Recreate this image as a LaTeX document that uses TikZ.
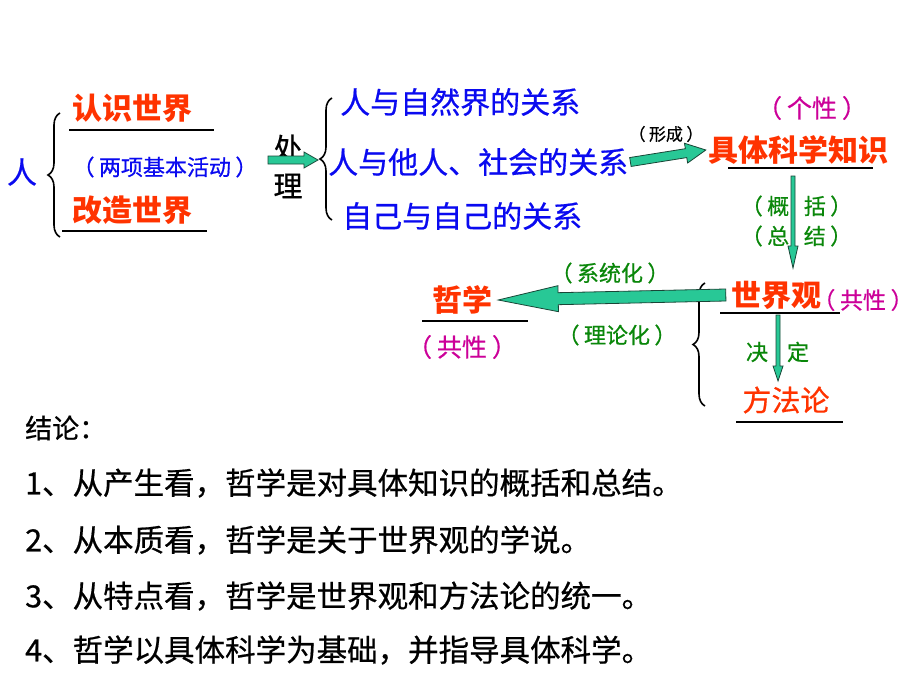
\documentclass[tikz,border=0pt]{standalone}
\usepackage{fontspec}
\setmainfont{Noto Sans CJK SC}[UprightFeatures={FakeBold=0.6}]
\usetikzlibrary{calc,decorations.pathreplacing}
\definecolor{zred}{RGB}{255,51,0}
\definecolor{zblue}{RGB}{10,10,240}
\definecolor{zmag}{RGB}{204,0,153}
\definecolor{zgreen}{RGB}{10,135,10}
\definecolor{zteal}{RGB}{40,200,150}
\definecolor{zedge}{RGB}{25,70,55}
\tikzset{
  every node/.style={inner sep=0pt},
  redtxt/.style={text=zred,font=\bfseries\fontsize{30}{30}\selectfont},
  redplain/.style={text=zred,font=\fontsize{29}{29}\selectfont},
  bluetxt/.style={text=zblue,font=\fontsize{30}{30}\selectfont},
  bluesm/.style={text=zblue,font=\fontsize{22}{22}\selectfont},
  blktxt/.style={text=black,font=\fontsize{29}{29}\selectfont},
  smalltxt/.style={text=black,font=\fontsize{17}{17}\selectfont},
  magtxt/.style={text=zmag,font=\fontsize{25}{25}\selectfont},
  greentxt/.style={text=zgreen,font=\fontsize{22}{22}\selectfont},
  concl/.style={anchor=west,text=black,font=\fontsize{30.5}{30.5}\selectfont},
  uline/.style={line width=1.3pt},
  bracebar/.style={line width=1.6pt,decorate,decoration={brace,amplitude=12pt}},
  arrowbody/.style={fill=zteal,draw=zedge,line width=0.8pt},
}
% wide full-width brackets
\newcommand\pa[1]{（\hspace{.2em}#1\hspace{.2em}）}
% block arrow: start, target, half shaft, half head, head length
\newcommand\blockarrow[5]{%
  \path (#1) coordinate (ba-s) (#2) coordinate (ba-t);
  \path ($(ba-t)!#5!(ba-s)$) coordinate (ba-b);
  \filldraw[arrowbody] ($(ba-s)!#3!90:(ba-t)$) -- ($(ba-b)!#3!-90:(ba-s)$)
    -- ($(ba-b)!#4!-90:(ba-s)$) -- (ba-t) -- ($(ba-b)!#4!90:(ba-s)$)
    -- ($(ba-b)!#3!90:(ba-s)$) -- ($(ba-s)!#3!-90:(ba-t)$) -- cycle;
}
\begin{document}
\begin{tikzpicture}[x=1pt,y=-1pt]
  \fill[white] (0,0) rectangle (920,690);
  \useasboundingbox (0,0) rectangle (920,690);

  % left part
  \node[bluetxt] (ren) at (22,172) {人};
  \draw[bracebar] (60,237) -- (60,113);
  \node[redtxt] (rssj) at (132,108) {认识世界};
  \draw[uline] (69,130) -- (214,130);
  \node[bluesm] (hdong) at (165,167) {\pa{两项基本活动}};
  \node[redtxt] (gzsj) at (132,210) {改造世界};
  \draw[uline] (62,231) -- (207,231);
  \node[blktxt] (chu) at (288,148) {处};
  \node[blktxt] (li) at (288,186) {理};

  % three relations
  \draw[bracebar] (332,220) -- (332,98);
  \coordinate (tipA) at (318,160);
  \coordinate (startA) at (268,160);
  \node[bluetxt,anchor=west] (rel1) at (340,102) {人与自然界的关系};
  \node[bluetxt,anchor=west] (rel2) at (328,162) {人与他人、社会的关系};
  \node[bluetxt,anchor=west] (rel3) at (342,216) {自己与自己的关系};

  % concrete science
  \node[smalltxt] (xcheng) at (666,134) {\pa{形成}};
  \node[magtxt] (gexing) at (812,108) {\pa{个性}};
  \node[redtxt] (kxzs) at (798,150) {具体科学知识};
  \draw[uline] (728,168) -- (873,168);
  \coordinate (downS) at (793,176);
  \coordinate (downT) at (793,268);
  \node[greentxt] (gai) at (765,206) {（\hspace{.2em}概};
  \node[greentxt] (kuo) at (828,206) {括\hspace{.2em}）};
  \node[greentxt] (zong) at (765,236) {（\hspace{.2em}总};
  \node[greentxt] (jie) at (828,236) {结\hspace{.2em}）};

  % world view
  \node[redtxt] (sjg) at (776,295) {世界观};
  \draw[uline] (720,313) -- (840,313);
  \node[magtxt,font=\fontsize{23}{23}\selectfont] (gong1) at (863,300) {\pa{共性}};
  \node[redtxt] (zx) at (462,300) {哲学};
  \draw[uline] (422,321) -- (528,321);
  \node[magtxt] (gong2) at (462,347) {\pa{共性}};
  \node[greentxt] (xtong) at (610,273) {\pa{系统化}};
  \node[greentxt] (llun) at (617,335) {\pa{理论化}};
  \draw[bracebar] (705,406) -- (705,283);
  \node[greentxt] (jue) at (757,352) {决};
  \node[greentxt] (ding) at (798,352) {定};
  \node[redplain] (ffl) at (786,400) {方法论};
  \draw[uline] (736,422) -- (843,422);
  \coordinate (sjgS) at (778,315);
  \coordinate (fflT) at (778,381);

  % arrows
  \blockarrow{startA}{tipA}{4pt}{8pt}{14pt}
  \blockarrow{[xshift=2pt]rel2.east}{[xshift=-2pt]kxzs.west}{4.5pt}{10pt}{20pt}
  \blockarrow{downS}{downT}{2pt}{5pt}{22pt}
  \blockarrow{[xshift=-5pt]sjg.west}{[xshift=6pt]zx.east}{6pt}{13pt}{60pt}
  \blockarrow{sjgS}{fflT}{2pt}{5pt}{15pt}

  % conclusions
  \node[concl,font=\fontsize{27}{27}\selectfont] (c0) at (25,428) {结论：};
  \node[concl] (c1) at (25,483) {1、从产生看，哲学是对具体知识的概括和总结。};
  \node[concl] (c2) at (25,540) {2、从本质看，哲学是关于世界观的学说。};
  \node[concl] (c3) at (25,596) {3、从特点看，哲学是世界观和方法论的统一。};
  \node[concl] (c4) at (25,650) {4、哲学以具体科学为基础，并指导具体科学。};
\end{tikzpicture}
\end{document}
